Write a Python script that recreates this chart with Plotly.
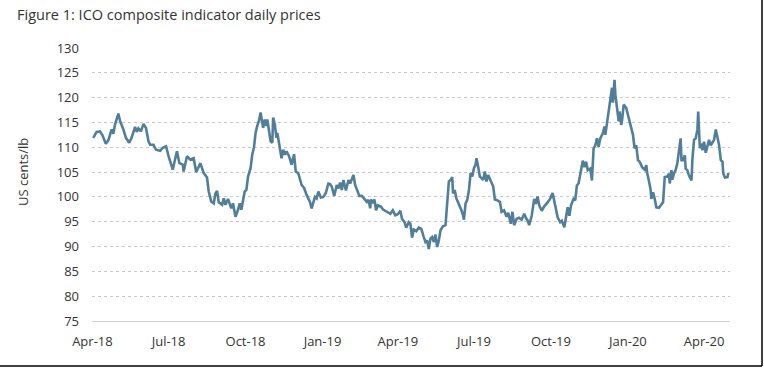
import pandas as pd
import plotly.graph_objects as go

# Days since 2 Apr 2018 and ICO composite indicator price (US cents/lb)
start_date = "2018-04-02"
days_since_start = [
    0, 4, 8, 11, 15, 18, 22, 24, 26, 30, 32, 36, 39, 43, 46, 50, 52, 54, 57, 60,
    63, 66, 68, 72, 75, 80, 83, 87, 90, 95, 100, 103, 107, 108, 112, 116, 120, 123, 128, 132,
    136, 138, 141, 144, 146, 148, 150, 154, 156, 158, 161, 163, 165, 167, 170, 173, 175, 177, 181, 183,
    185, 188, 190, 192, 194, 196, 198, 200, 201, 203, 205, 207, 208, 210, 212, 214, 215, 217, 219, 220,
    223, 225, 227, 229, 231, 234, 237, 240, 242, 245, 249, 252, 255, 259, 261, 263, 265, 267, 269, 272,
    275, 278, 281, 283, 285, 288, 291, 293, 295, 297, 299, 302, 305, 307, 309, 311, 313, 316, 318, 321,
    324, 327, 329, 331, 332, 334, 336, 338, 340, 344, 346, 349, 352, 355, 358, 361, 364, 367, 369, 372,
    374, 377, 379, 381, 383, 386, 389, 392, 395, 397, 399, 401, 403, 405, 407, 409, 411, 413, 415, 418,
    421, 423, 425, 427, 429, 430, 432, 434, 436, 438, 440, 442, 443, 445, 447, 449, 451, 453, 455, 457,
    458, 460, 462, 464, 466, 468, 470, 472, 475, 478, 480, 482, 486, 488, 491, 494, 496, 499, 501, 503,
    506, 509, 512, 515, 517, 519, 521, 524, 527, 529, 531, 533, 536, 539, 543, 546, 549, 552, 555, 558,
    560, 563, 565, 567, 569, 571, 574, 576, 578, 580, 583, 585, 587, 589, 591, 594, 596, 598, 600, 602,
    604, 606, 609, 611, 612, 614, 616, 618, 620, 621, 623, 624, 626, 628, 629, 631, 632, 634, 637, 639,
    642, 645, 647, 649, 651, 653, 656, 659, 661, 662, 664, 666, 667, 669, 671, 673, 676, 678, 681, 683,
    686, 688, 689, 691, 692, 694, 696, 698, 700, 702, 703, 705, 707, 708, 710, 712, 715, 716, 718, 720,
    722, 723, 725, 727, 728, 730, 732, 734, 736, 738, 740, 742, 744, 746, 748, 750, 752, 753, 755, 758,
    759,
]
price = [
    111.9, 113.1, 113.2, 112.4, 110.7, 111.4, 113.6, 112.7, 114.6, 116.8, 115.3, 113.6, 111.9, 110.9, 112.0, 114.1, 113.1, 113.8, 113.2, 114.7,
    113.9, 111.2, 110.5, 110.5, 109.5, 109.3, 109.9, 110.2, 108.2, 105.5, 109.2, 106.8, 106.5, 105.1, 108.2, 107.5, 107.8, 105.0, 106.8, 104.8,
    103.9, 101.1, 99.1, 98.7, 100.7, 101.2, 98.9, 98.4, 99.7, 98.4, 99.6, 98.4, 97.7, 98.7, 96.0, 97.4, 98.7, 97.4, 101.1, 101.4,
    104.1, 105.8, 108.5, 109.9, 112.9, 114.3, 115.3, 117.0, 116.0, 113.9, 115.6, 114.3, 115.6, 113.2, 111.2, 110.9, 116.0, 114.6, 111.9, 112.9,
    109.9, 107.8, 109.5, 108.5, 109.2, 108.2, 106.5, 108.6, 105.1, 104.8, 102.4, 101.8, 100.4, 99.0, 97.7, 99.0, 100.0, 99.7, 101.1, 99.9,
    100.0, 100.8, 102.7, 102.6, 102.1, 100.2, 102.4, 101.7, 102.9, 101.4, 103.4, 101.3, 103.4, 102.7, 103.8, 104.4, 102.4, 101.1, 100.2, 100.2,
    99.7, 99.0, 99.4, 97.7, 99.5, 98.7, 99.5, 97.3, 98.3, 98.0, 97.5, 97.2, 97.0, 96.6, 97.3, 96.3, 96.5, 97.2, 95.6, 94.9,
    93.8, 94.9, 94.6, 91.8, 93.4, 93.1, 93.8, 93.6, 91.9, 90.9, 91.2, 89.5, 91.6, 91.9, 90.9, 92.4, 89.9, 91.2, 93.3, 94.1,
    94.3, 99.4, 103.1, 103.4, 104.0, 100.7, 101.4, 99.7, 99.0, 98.0, 97.3, 96.3, 95.4, 98.7, 99.4, 101.4, 104.8, 104.1, 105.8, 106.5,
    107.8, 106.1, 104.1, 103.8, 103.4, 105.1, 103.1, 104.4, 103.4, 102.1, 99.5, 99.4, 99.0, 97.0, 97.3, 96.0, 96.8, 94.6, 97.0, 94.3,
    95.6, 95.8, 95.4, 96.6, 95.8, 95.3, 94.3, 96.2, 99.6, 98.6, 100.1, 98.3, 97.2, 98.1, 98.9, 99.6, 100.8, 98.3, 95.9, 94.9,
    95.2, 93.9, 95.9, 97.9, 96.2, 98.3, 99.6, 99.3, 102.3, 102.7, 105.4, 107.3, 106.0, 107.1, 105.4, 105.7, 103.3, 109.8, 110.4, 111.8,
    110.1, 111.8, 112.8, 114.2, 112.5, 114.8, 117.2, 120.3, 122.0, 119.0, 123.6, 120.6, 117.6, 115.2, 117.2, 114.5, 115.5, 118.6, 117.9, 116.5,
    114.5, 112.5, 109.8, 110.4, 107.4, 107.1, 106.0, 105.5, 106.4, 104.8, 103.3, 101.6, 99.6, 100.9, 99.6, 97.9, 97.8, 98.3, 98.9, 104.0,
    104.1, 104.7, 102.7, 105.4, 103.5, 104.7, 105.4, 106.7, 109.4, 111.8, 107.4, 107.4, 108.4, 105.7, 105.4, 104.3, 103.3, 107.4, 111.5, 111.8,
    113.5, 117.2, 109.8, 110.8, 109.4, 111.1, 108.9, 110.4, 111.5, 110.4, 111.1, 111.5, 113.6, 111.8, 110.4, 107.4, 107.1, 104.7, 103.9, 104.0,
    104.8,
]

y_ticks = [75, 80, 85, 90, 95, 100, 105, 110, 115, 120, 125, 130]

dates = pd.Timestamp(start_date) + pd.to_timedelta(days_since_start, unit="D")

FONT = "Open Sans"
TXT = "#333333"

fig = go.Figure()
fig.add_trace(go.Scatter(
    x=dates, y=price, mode="lines",
    line=dict(color="#527f97", width=2.6),
    hoverinfo="x+y", showlegend=False,
))

# pixel helpers for decorative frame (plot area: x 92..730, y 48..321)
L, R, T, B = 92, 730, 48, 321
def px(x):
    return (x - L) / (R - L)
def py(y):
    return (B - y) / (B - T)

shapes = [
    dict(type="line", xref="paper", yref="paper", x0=px(0), x1=px(762), y0=py(366), y1=py(366),
         line=dict(color="black", width=1.5)),
    dict(type="line", xref="paper", yref="paper", x0=px(762), x1=px(762), y0=py(0), y1=py(366),
         line=dict(color="black", width=1.5)),
]

fig.update_layout(
    width=764, height=369,
    margin=dict(l=L, r=764 - R, t=T, b=369 - B),
    paper_bgcolor="white", plot_bgcolor="white",
    font=dict(family=FONT, size=13, color=TXT),
    shapes=shapes,
    annotations=[
        dict(text="Figure 1: ICO composite indicator daily prices", xref="paper", yref="paper",
             x=px(15), y=py(14), xanchor="left", yanchor="middle", showarrow=False,
             font=dict(family=FONT, size=14.5, color=TXT)),
        dict(text="US cents/lb", xref="paper", yref="paper", x=px(23), y=py(172),
             xanchor="center", yanchor="middle", textangle=-90, showarrow=False,
             font=dict(family=FONT, size=13, color=TXT)),
    ],
    xaxis=dict(
        type="date",
        range=[pd.Timestamp(start_date) - pd.Timedelta(days=1.5), pd.Timestamp(start_date) + pd.Timedelta(days=761)],
        tick0="2018-04-01", dtick="M3", tickformat="%b-%y",
        showgrid=False, zeroline=False,
        showline=True, linecolor="#d0d0d0", linewidth=1,
        ticks="", ticklabelstandoff=8,
        tickfont=dict(family=FONT, size=13, color=TXT),
    ),
    yaxis=dict(
        range=[75, 130], tickvals=y_ticks,
        showgrid=True, gridcolor="#c8c8c8", griddash="dot", gridwidth=1,
        zeroline=False, showline=False, ticks="", ticklabelstandoff=12,
        tickfont=dict(family=FONT, size=13, color=TXT),
    ),
)

fig.write_html("out.html", config={"displayModeBar": False},
               post_script="document.body.style.margin='0px';")
